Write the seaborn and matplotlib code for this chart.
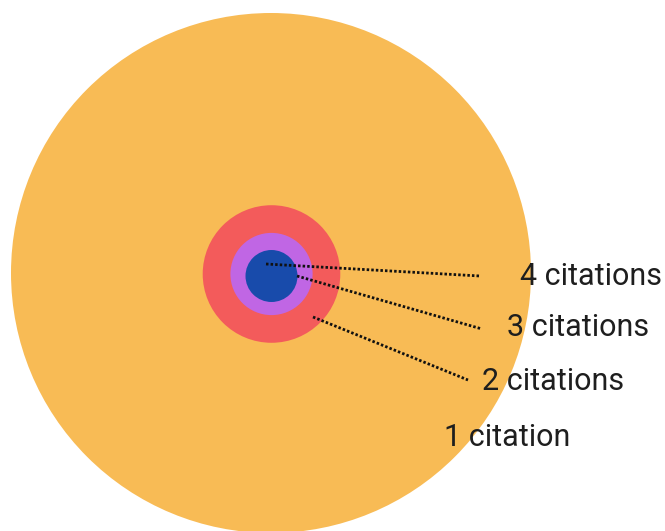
import matplotlib
matplotlib.use("Agg")
import matplotlib.pyplot as plt
import seaborn as sns
import pandas as pd

# Papers grouped by how many times they were cited
labels = ["1 citation", "2 citations", "3 citations", "4 citations"]
papers = [1000, 70, 25, 10]
colors = ["#F8BB55", "#F35B5B", "#C066E4", "#184BAB"]

# Bubble centres (canvas units) and label anchors
cx = [271, 271.5, 271.5, 271.5]
cy = [273, 274, 274, 276]
label_x = [444, 482, 507, 520]
label_y = [446.5, 390, 336, 285]
# Leader lines: start near the bubble, end near the label
lead_from = {"2 citations": (313, 317), "3 citations": (297, 276), "4 citations": (266, 264)}
lead_to = {"2 citations": (468, 380), "3 citations": (482, 329), "4 citations": (480, 276)}

W, H, DPI = 665, 531, 100
big_radius_px = 260
max_s = (2 * big_radius_px * 72 / DPI) ** 2  # marker area in pt^2 for the largest bubble

df = pd.DataFrame({"label": labels, "papers": papers, "x": cx, "y": cy})

sns.set_theme(style="white")
plt.rcParams["font.family"] = ["Roboto", "DejaVu Sans"]

fig = plt.figure(figsize=(W / DPI, H / DPI), dpi=DPI)
ax = fig.add_axes([0, 0, 1, 1])

sns.scatterplot(
    data=df, x="x", y="y", hue="label", palette=dict(zip(labels, colors)),
    size="papers", sizes=(0, max_s), size_norm=(0, max(papers)),
    linewidth=0, alpha=1, legend=False, ax=ax,
)

for lab in labels[1:]:
    (x0, y0), (x1, y1) = lead_from[lab], lead_to[lab]
    ax.plot([x0, x1], [y0, y1], color="#111111", lw=2.0,
            linestyle=(0, (0.9, 0.75)), solid_capstyle="butt")

for lab, tx, ty in zip(labels, label_x, label_y):
    ax.text(tx, ty, lab, fontsize=22, color="#1e1e1e", ha="left", va="baseline")

ax.set_xlim(0, W)
ax.set_ylim(H, 0)
ax.set_axis_off()

fig.savefig("out.png", dpi=DPI)
